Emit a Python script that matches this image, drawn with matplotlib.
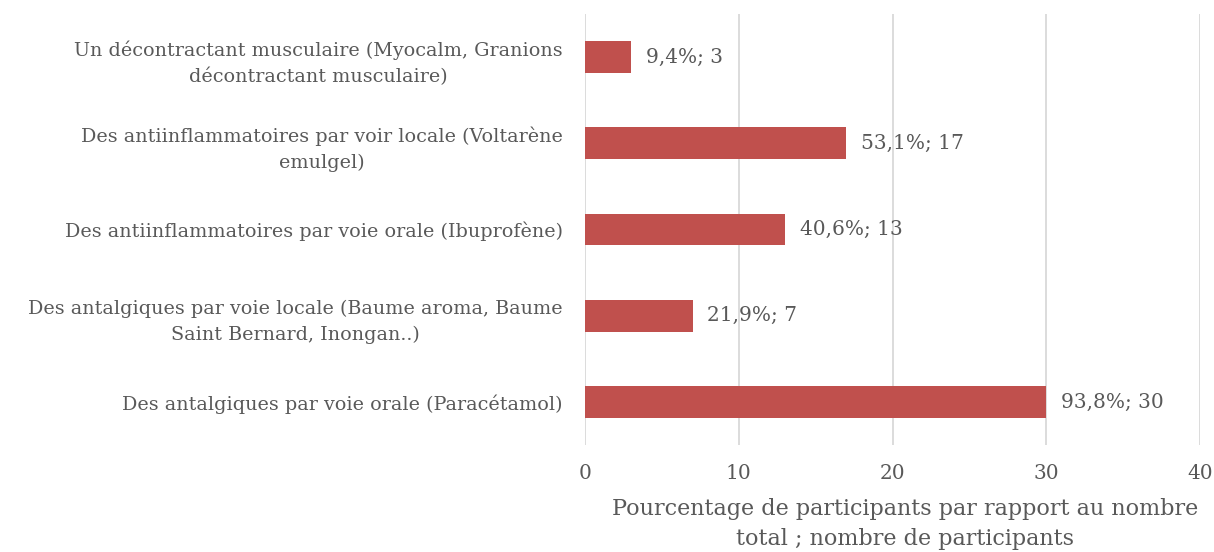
import matplotlib.pyplot as plt

plt.rcParams['font.family'] = ['DejaVu Serif']

categories = [
    "Des antalgiques par voie orale (Paracétamol)",
    "Des antalgiques par voie locale (Baume aroma, Baume\nSaint Bernard, Inongan..)",
    "Des antiinflammatoires par voie orale (Ibuprofène)",
    "Des antiinflammatoires par voir locale (Voltarène\nemulgel)",
    "Un décontractant musculaire (Myocalm, Granions\ndécontractant musculaire)",
]
counts = [30, 7, 13, 17, 3]
percents = ["93,8%", "21,9%", "40,6%", "53,1%", "9,4%"]
xticks = [0, 10, 20, 30, 40]

bar_color = '#C0504D'
text_color = '#595959'
grid_color = '#D9D9D9'

fig = plt.figure(figsize=(12.14, 5.52), dpi=100)
ax = fig.add_axes([0.4819, 0.1938, 0.5066, 0.7808])

pos = list(range(len(categories)))
ax.barh(pos, counts, height=0.37, color=bar_color, zorder=3)

for y, c, p in zip(pos, counts, percents):
    ax.text(c + 0.95, y, f"{p}; {c}", va='center', ha='left',
            fontsize=14.5, color=text_color, zorder=4)

ax.set_xlim(0, 40)
ax.set_ylim(-0.5, len(categories) - 0.5)
ax.set_xticks(xticks)
ax.set_yticks(pos)
ax.set_yticklabels(categories, multialignment='center', linespacing=1.55)
ax.tick_params(axis='both', length=0, labelsize=14.5, labelcolor=text_color)
ax.tick_params(axis='y', labelsize=13.8, pad=16)
ax.tick_params(axis='x', pad=14)

ax.xaxis.grid(True, color=grid_color, linewidth=1.3, zorder=0)
for s in ax.spines.values():
    s.set_visible(False)

ax.set_xlabel("Pourcentage de participants par rapport au nombre\ntotal ; nombre de participants",
              fontsize=16, color=text_color, linespacing=1.45)
ax.xaxis.set_label_coords(0.52, -0.124, transform=ax.transAxes)
ax.xaxis.label.set_va('top')

fig.savefig('out.png', dpi=100)
